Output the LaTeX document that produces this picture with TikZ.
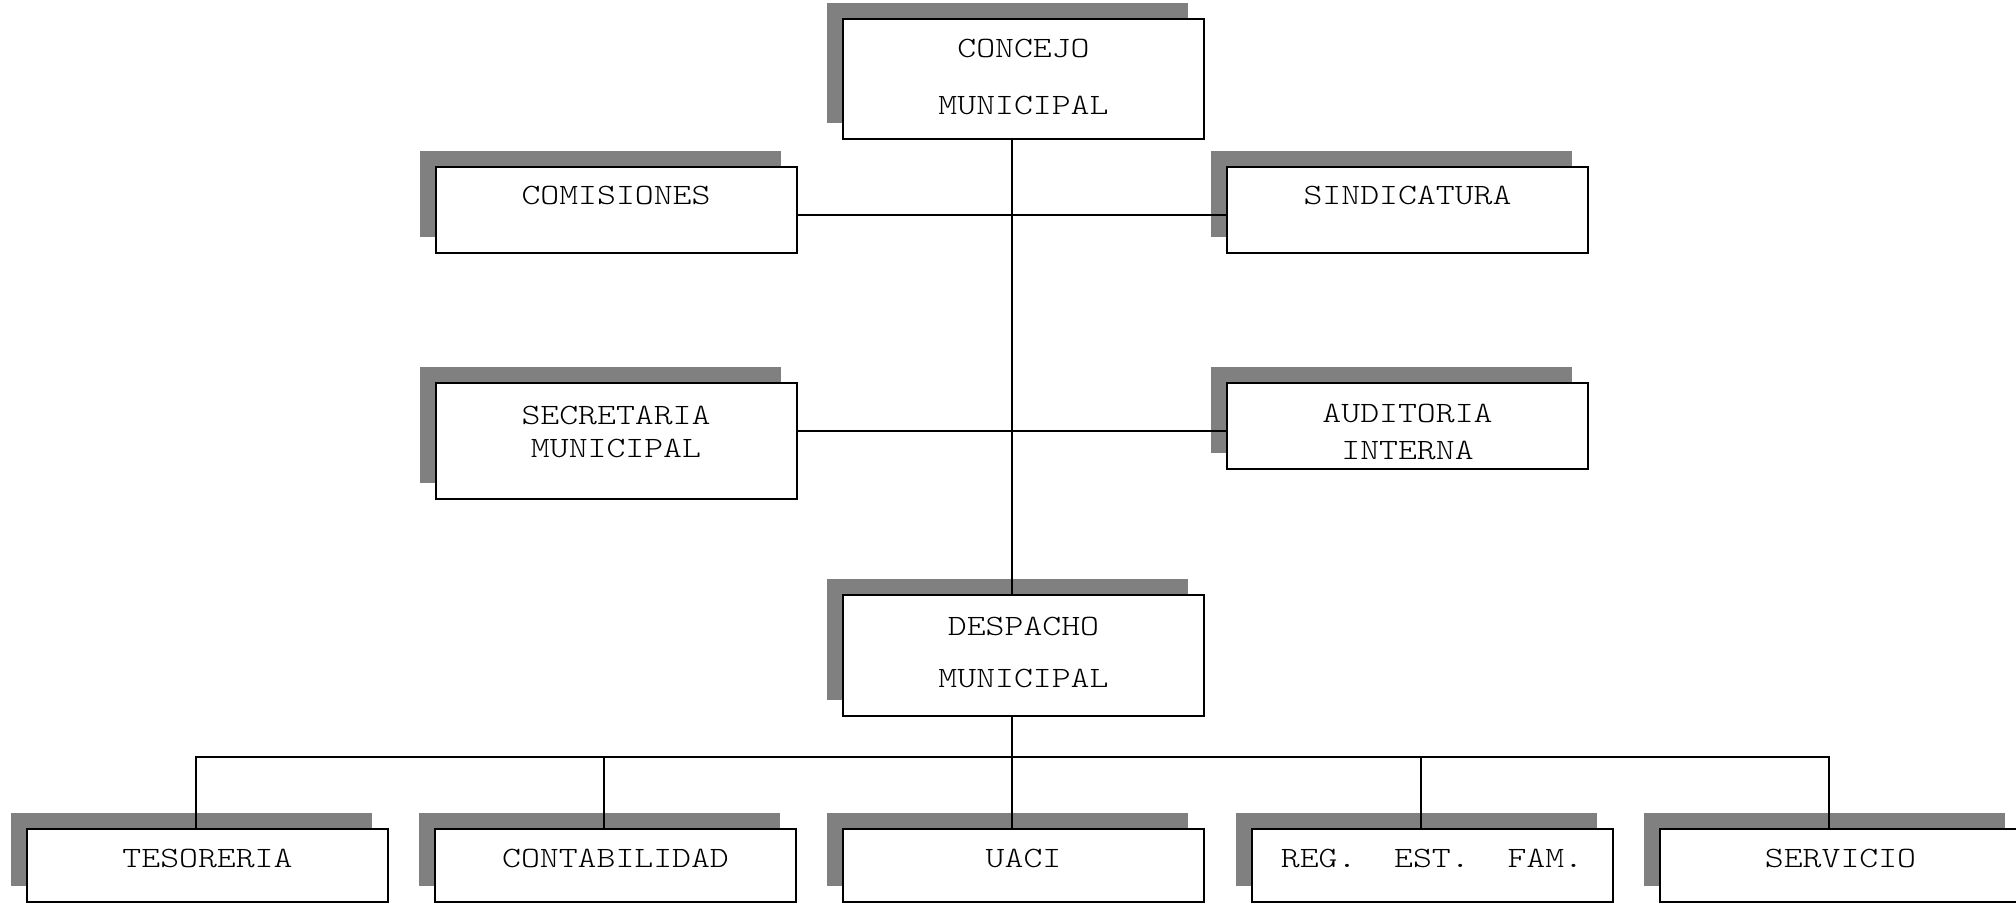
\documentclass[tikz,border=0pt]{standalone}
\usepackage{fontspec}
\newfontfamily\orgfont{lmmonolt10-regular.otf}[FakeStretch=1.22]
\usetikzlibrary{shadows,calc}
\definecolor{shadowgray}{RGB}{128,128,128}
\tikzset{
  orgbox/.style={draw=black, line width=2pt, fill=white, inner sep=0pt,
    minimum width=361pt,
    general shadow={shadow xshift=-16pt, shadow yshift=16pt, fill=shadowgray}},
  orgtxt/.style={anchor=base, inner sep=0pt, font=\orgfont\fontsize{29.5}{34}\selectfont},
  link/.style={draw=black, line width=2pt}
}
\begin{document}
\begin{tikzpicture}[x=1pt,y=-1pt]
\useasboundingbox (0,0) rectangle (2016,903);
% boxes
\node[orgbox, minimum height=120pt] (conc) at (1023.5,79) {};
\node[orgbox, minimum height=86pt] (com) at (616,210) {};
\node[orgbox, minimum height=86pt] (sind) at (1407.5,210) {};
\node[orgbox, minimum height=116pt] (secr) at (616,441) {};
\node[orgbox, minimum height=86pt] (audi) at (1407.5,426) {};
\node[orgbox, minimum height=121pt] (desp) at (1023.5,655.5) {};
\node[orgbox, minimum height=73pt] (tes) at (207.5,865.5) {};
\node[orgbox, minimum height=73pt] (cont) at (615.5,865.5) {};
\node[orgbox, minimum height=73pt] (uaci) at (1023.5,865.5) {};
\node[orgbox, minimum height=73pt] (reg) at (1432,865.5) {};
\node[orgbox, minimum height=73pt] (serv) at (1840.5,865.5) {};
% texts
\node[orgtxt] (concA) at (1023.5,57) {CONCEJO};
\node[orgtxt] (concB) at (1023.5,114) {MUNICIPAL};
\node[orgtxt] (comA) at (616,204) {COMISIONES};
\node[orgtxt] (sindA) at (1407.5,204) {SINDICATURA};
\node[orgtxt] (secrA) at (616,424) {SECRETARIA};
\node[orgtxt] (secrB) at (616,457) {MUNICIPAL};
\node[orgtxt] (audiA) at (1407.5,422) {AUDITORIA};
\node[orgtxt] (audiB) at (1407.5,459) {INTERNA};
\node[orgtxt] (despA) at (1023.5,635) {DESPACHO};
\node[orgtxt] (despB) at (1023.5,687) {MUNICIPAL};
\node[orgtxt] (tesA) at (207.5,867) {TESORERIA};
\node[orgtxt] (contA) at (615.5,867) {CONTABILIDAD};
\node[orgtxt] (uaciA) at (1023.5,867) {UACI};
\node[orgtxt] (regA) at (1432,867) {REG.\ \ EST.\ \ FAM.};
\node[orgtxt] (servA) at (1840.5,867) {SERVICIO};
% connectors
\coordinate (bus) at (0,757);
\path[link] ([xshift=-11.5pt]conc.south) -- ([xshift=-11.5pt]desp.north);
\path[link] ([yshift=-5pt]com.east) -- ([yshift=-5pt]com.east -| sind.west);
\path[link] ([yshift=10pt]secr.east) -- ([yshift=10pt]secr.east -| audi.west);
\path[link] ([xshift=-11.5pt]desp.south) -- ([xshift=-11.5pt]desp.south |- bus);
\path[link] ([xshift=-11.5pt]tes.north) -- ([xshift=-11.5pt]tes.north |- bus)
   -- ([xshift=-11.5pt]serv.north |- bus) -- ([xshift=-11.5pt]serv.north);
\path[link] ([xshift=-11.5pt]cont.north |- bus) -- ([xshift=-11.5pt]cont.north);
\path[link] ([xshift=-11.5pt]uaci.north |- bus) -- ([xshift=-11.5pt]uaci.north);
\path[link] ([xshift=-11.5pt]reg.north |- bus) -- ([xshift=-11.5pt]reg.north);
\end{tikzpicture}
\end{document}
